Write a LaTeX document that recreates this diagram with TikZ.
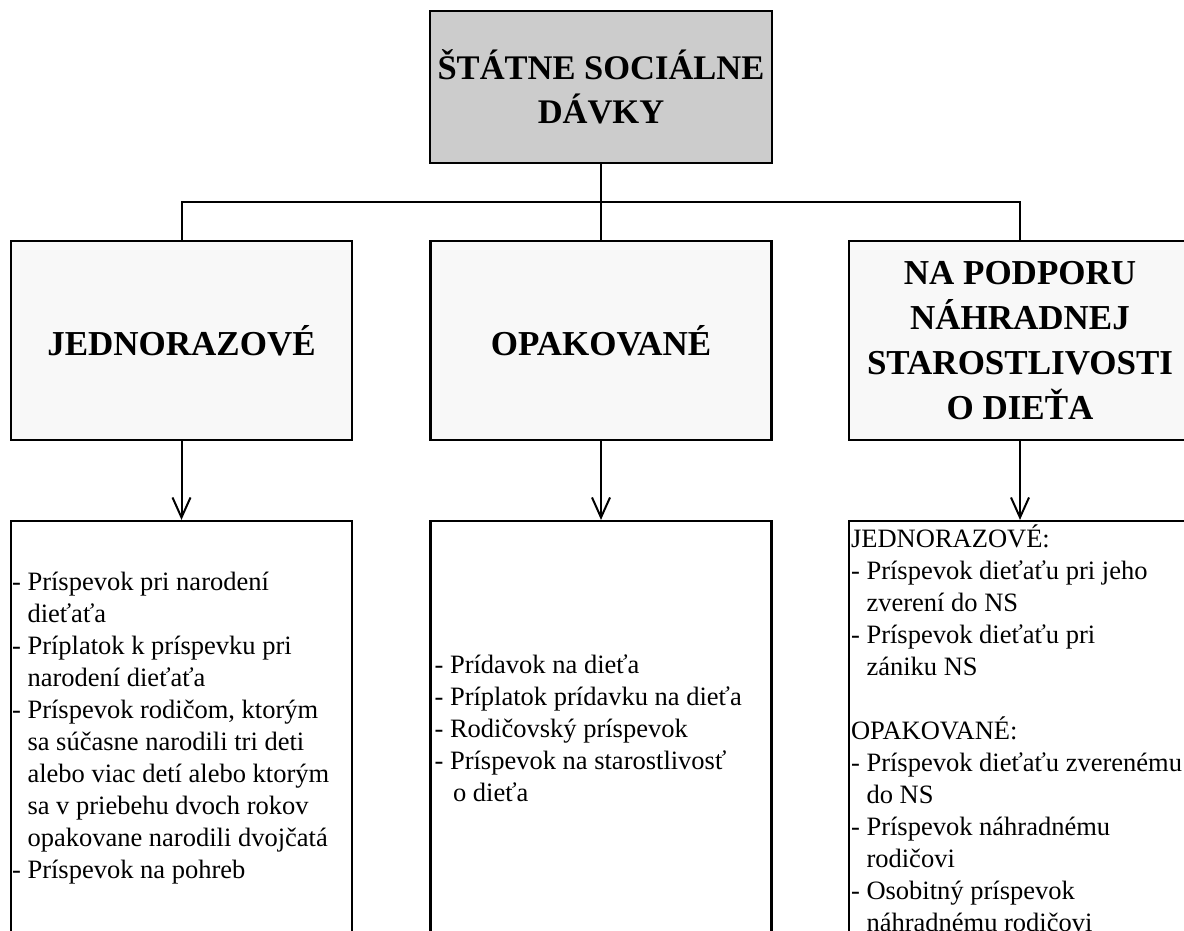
\documentclass[tikz,border=0pt]{standalone}
\usepackage{fontspec}
\setmainfont{Liberation Serif}
\usetikzlibrary{arrows.meta}
\definecolor{topgray}{RGB}{204,204,204}
\definecolor{headfill}{RGB}{248,248,248}
% indent for wrapped lines of a list item
\newcommand{\cont}{\hphantom{-\ }}

\begin{document}
\begin{tikzpicture}[x=1pt,y=-1pt,
  box/.style={draw=black, line width=2.2pt, minimum width=341pt, inner sep=0pt},
  head/.style={box, fill=headfill, minimum height=199pt, align=center,
    font=\fontsize{35}{45}\selectfont\bfseries},
  listbox/.style={box, fill=white, minimum height=414pt},
  listtext/.style={anchor=west, align=left, inner sep=0pt,
    font=\fontsize{26.5}{32}\selectfont},
  link/.style={line width=2pt},
  arr/.style={link, -{Straight Barb[length=20pt,width=18pt,line width=2pt]}}]
\useasboundingbox (0,0) rectangle (1184,930);
\clip (0,0) rectangle (1184,930);

% root
\node[box, fill=topgray, minimum width=342pt, minimum height=152pt, align=center,
  font=\fontsize{34.5}{44}\selectfont\bfseries] (root) at (601,87)
  {ŠTÁTNE SOCIÁLNE\\DÁVKY};

% category boxes
\node[head] (a) at (181.5,340.5) {JEDNORAZOVÉ};
\node[head] (b) at (601,340.5) {OPAKOVANÉ};
\node[head, minimum width=342pt] (c) at (1020,340.5)
  {NA PODPORU\\NÁHRADNEJ\\STAROSTLIVOSTI\\O DIEŤA};

% list boxes
\node[listbox] (la) at (181.5,728) {};
\node[listbox] (lb) at (601,728) {};
\node[listbox, minimum width=342pt] (lc) at (1020,728) {};

\node[listtext] (ta) at ([xshift=2pt]la.west) {%
- Príspevok pri narodení\\
\cont dieťaťa\\
- Príplatok k príspevku pri\\
\cont narodení dieťaťa\\
- Príspevok rodičom, ktorým\\
\cont sa súčasne narodili tri deti\\
\cont alebo viac detí alebo ktorým\\
\cont sa v priebehu dvoch rokov\\
\cont opakovane narodili dvojčatá\\
- Príspevok na pohreb};

\node[listtext] (tb) at ([xshift=5pt]lb.west) {%
- Prídavok na dieťa\\
- Príplatok prídavku na dieťa\\
- Rodičovský príspevok\\
- Príspevok na starostlivosť\\
\cont\hspace{3pt}o dieťa};

\node[listtext] (tc) at ([xshift=3pt]lc.west) {%
JEDNORAZOVÉ:\\
- Príspevok dieťaťu pri jeho\\
\cont zverení do NS\\
- Príspevok dieťaťu pri\\
\cont zániku NS\\[32pt]
OPAKOVANÉ:\\
- Príspevok dieťaťu zverenému\\
\cont do NS\\
- Príspevok náhradnému\\
\cont rodičovi\\
- Osobitný príspevok\\
\cont náhradnému rodičovi};

% connectors
\coordinate (bus) at (601,202);
\draw[link] (root.south) -- (b.north);
\draw[link] (a.north) |- (bus) -| (c.north);
\draw[arr] (a.south) -- (la.north);
\draw[arr] (b.south) -- (lb.north);
\draw[arr] (c.south) -- (lc.north);
\end{tikzpicture}
\end{document}
